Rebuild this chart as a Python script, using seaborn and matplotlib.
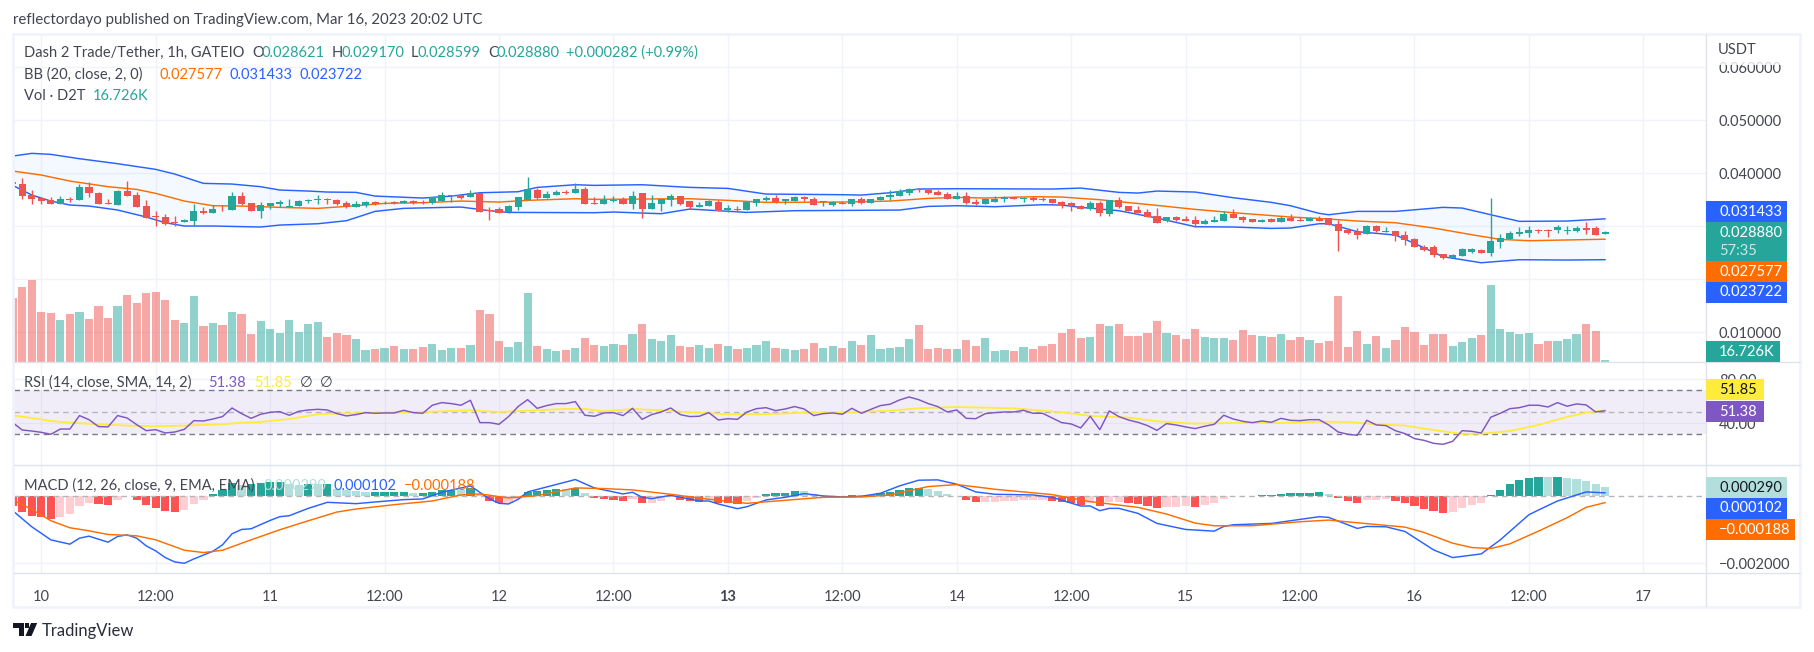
#!/usr/bin/env python3
"""
Recreate the D2T/USDT 1h TradingView chart with Bollinger, volume, RSI and MACD panes
"""

import numpy as np
import matplotlib
matplotlib.use('Agg')
import matplotlib.pyplot as plt
from matplotlib.lines import Line2D
from matplotlib.patches import Rectangle, Polygon
import seaborn as sns

# Hours since Mar 10 00:00, one candle per hour
hours = np.arange(-3, 165)

# Prices are in thousandths of USDT
opens = [38.37, 37.99, 35.85, 35.35, 34.97, 34.22, 35.16, 35.03, 37.42, 36.29, 34.40, 34.09,
         36.67, 35.85, 33.84, 31.96, 31.70, 30.89, 30.82, 31.01, 32.90, 32.52, 33.71, 33.15,
         35.72, 34.34, 32.96, 33.84, 34.28, 33.71, 33.84, 34.72, 34.91, 35.16, 34.97, 34.34,
         33.65, 34.09, 34.59, 34.34, 34.53, 34.47, 34.78, 34.59, 34.34, 34.78, 35.66, 35.85,
         35.60, 36.23, 33.02, 33.27, 32.65, 33.65, 34.97, 36.86, 35.35, 35.98, 36.54, 36.29,
         37.05, 34.40, 34.28, 34.78, 35.16, 34.28, 36.29, 33.34, 34.28, 35.03, 35.72, 34.78,
         33.71, 33.84, 34.59, 33.09, 33.27, 33.09, 34.47, 35.03, 35.35, 34.84, 34.78, 35.60,
         35.10, 34.59, 34.09, 34.47, 34.28, 35.10, 34.40, 35.03, 35.54, 35.72, 36.23, 36.98,
         36.86, 36.54, 36.04, 35.16, 35.72, 34.59, 34.22, 34.66, 35.10, 35.47, 35.22, 35.35,
         35.22, 35.16, 34.59, 34.40, 33.84, 33.27, 34.40, 32.40, 34.91, 33.84, 33.09, 32.71,
         31.96, 31.07, 31.77, 31.39, 31.20, 30.45, 30.89, 31.01, 32.33, 31.77, 31.33, 30.89,
         31.39, 30.89, 31.58, 31.20, 31.07, 31.45, 31.51, 30.39, 29.32, 29.00, 28.62, 30.07,
         28.93, 29.13, 28.37, 27.61, 26.10, 26.04, 24.78, 24.02, 24.47, 25.16, 25.53, 24.97,
         27.11, 27.68, 28.55, 28.74, 29.32, 29.32, 29.32, 29.19, 29.13, 29.69, 29.63, 28.62]
highs = [38.50, 39.06, 36.79, 35.60, 35.60, 35.79, 35.54, 37.99, 38.37, 36.48, 35.16, 36.79,
         38.55, 36.48, 34.91, 32.83, 32.27, 31.89, 31.45, 34.22, 33.71, 33.96, 34.03, 36.48,
         36.48, 34.47, 34.59, 34.40, 34.91, 35.16, 34.97, 35.16, 35.85, 35.28, 35.16, 34.72,
         34.72, 34.72, 34.72, 34.72, 34.78, 34.97, 34.91, 34.91, 35.60, 36.48, 35.98, 36.10,
         36.86, 36.35, 33.71, 33.71, 33.96, 35.60, 39.31, 37.17, 36.67, 36.86, 36.86, 38.12,
         37.42, 35.60, 35.91, 35.72, 35.60, 36.67, 36.29, 35.85, 35.16, 36.10, 35.79, 34.78,
         34.59, 34.91, 34.97, 34.03, 33.84, 34.72, 35.22, 35.79, 35.85, 35.16, 35.66, 35.79,
         35.54, 34.72, 34.78, 34.72, 35.16, 35.54, 35.22, 35.66, 36.79, 37.05, 37.23, 37.23,
         36.98, 36.86, 36.48, 36.54, 36.54, 35.16, 35.35, 35.66, 35.72, 35.60, 35.60, 35.66,
         35.60, 35.22, 34.72, 34.66, 33.96, 34.78, 34.78, 34.97, 35.60, 33.84, 33.84, 33.27,
         33.46, 31.77, 31.96, 31.96, 31.96, 31.39, 31.96, 32.90, 33.27, 31.96, 31.39, 31.39,
         31.64, 31.96, 32.33, 31.70, 31.77, 31.96, 31.64, 31.20, 29.44, 29.63, 30.26, 30.26,
         29.88, 29.19, 29.13, 27.80, 26.48, 26.48, 24.84, 24.78, 25.91, 25.98, 25.72, 35.35,
         28.55, 29.13, 29.88, 30.07, 29.57, 29.51, 30.26, 30.01, 30.07, 30.82, 30.07, 29.17]
lows = [37.90, 35.16, 34.28, 34.15, 34.22, 34.22, 34.59, 35.03, 35.60, 34.15, 34.15, 34.09,
        35.72, 33.71, 31.64, 30.13, 30.20, 30.13, 30.76, 30.13, 32.27, 32.46, 32.96, 33.09,
        34.03, 32.90, 31.58, 33.21, 33.71, 33.65, 33.78, 34.34, 34.15, 34.22, 34.09, 33.53,
        33.59, 33.71, 34.09, 34.22, 34.15, 34.40, 34.15, 34.28, 34.28, 34.72, 34.66, 35.16,
        35.54, 32.71, 31.20, 32.46, 32.58, 33.15, 34.91, 35.16, 35.28, 35.91, 36.10, 36.23,
        34.22, 34.22, 34.22, 34.66, 34.22, 33.27, 31.64, 33.27, 32.96, 33.90, 33.96, 33.21,
        33.65, 33.78, 32.83, 32.77, 32.90, 33.02, 33.90, 34.84, 34.47, 34.28, 34.72, 34.78,
        34.03, 33.90, 33.84, 34.22, 33.84, 34.28, 34.34, 34.97, 35.03, 35.66, 35.98, 36.54,
        36.17, 35.85, 35.10, 35.10, 34.22, 34.03, 34.15, 34.59, 34.59, 35.16, 34.59, 34.84,
        34.78, 34.34, 33.46, 32.90, 33.27, 33.15, 31.96, 31.96, 33.53, 32.83, 32.46, 31.70,
        30.70, 30.82, 31.01, 31.01, 29.94, 30.39, 30.82, 30.95, 31.51, 30.82, 30.82, 30.82,
        30.82, 30.82, 31.01, 31.01, 31.01, 31.01, 30.20, 25.41, 28.55, 27.61, 28.55, 29.00,
        28.87, 27.30, 26.48, 26.10, 25.35, 24.21, 23.83, 23.96, 24.40, 24.97, 24.91, 24.40,
        25.91, 27.61, 28.18, 27.99, 28.74, 27.99, 28.68, 28.62, 28.93, 28.55, 28.37, 28.60]
closes = [38.05, 35.79, 35.22, 34.84, 34.28, 35.10, 34.97, 37.42, 36.29, 34.28, 34.22, 36.67,
          35.79, 33.71, 31.64, 31.77, 30.51, 30.70, 31.20, 32.90, 32.58, 33.27, 33.59, 35.72,
          34.22, 32.96, 33.96, 34.34, 34.59, 33.84, 34.78, 34.97, 35.10, 34.91, 34.28, 33.71,
          34.15, 34.59, 34.22, 34.40, 34.40, 34.78, 34.34, 34.40, 35.47, 35.85, 35.85, 35.41,
          36.29, 32.77, 32.83, 32.58, 33.84, 35.47, 36.98, 35.35, 36.10, 36.54, 36.35, 37.05,
          34.28, 34.28, 34.97, 35.03, 34.28, 35.72, 33.34, 34.40, 35.10, 35.72, 34.28, 33.65,
          34.03, 34.78, 32.96, 33.40, 33.09, 34.59, 35.10, 35.35, 34.53, 35.16, 35.54, 35.22,
          34.09, 34.72, 34.59, 34.28, 35.10, 34.34, 35.16, 35.60, 35.91, 36.60, 36.98, 36.79,
          36.29, 35.91, 35.16, 35.72, 34.40, 34.28, 35.16, 35.10, 35.47, 35.22, 35.35, 34.97,
          35.03, 34.40, 34.03, 33.84, 33.34, 34.40, 32.46, 34.91, 33.71, 32.90, 32.52, 31.77,
          30.70, 31.70, 31.20, 31.07, 30.45, 31.01, 31.20, 32.33, 31.58, 31.26, 30.89, 31.20,
          30.89, 31.58, 31.07, 31.07, 31.58, 31.07, 30.26, 29.13, 28.74, 28.37, 30.07, 29.13,
          29.13, 28.18, 27.42, 26.10, 25.53, 24.59, 23.96, 24.59, 25.72, 25.66, 24.97, 27.23,
          27.80, 28.74, 28.93, 29.32, 29.13, 29.13, 29.88, 29.32, 29.69, 29.32, 28.43, 28.88]

# Volume in thousands of D2T
volumes = [536, 628, 686, 419, 410, 352, 402, 419, 360, 469, 368, 469, 561, 494, 578, 586, 519, 352,
           326, 552, 301, 326, 310, 419, 402, 234, 343, 276, 243, 352, 251, 318, 335, 209, 243, 226,
           193, 100, 109, 117, 134, 109, 109, 126, 151, 100, 117, 117, 142, 435, 402, 176, 126, 167,
           578, 134, 109, 92, 100, 117, 201, 142, 134, 151, 142, 234, 318, 193, 176, 226, 134, 126,
           142, 117, 151, 134, 109, 117, 142, 176, 117, 109, 100, 109, 159, 117, 134, 117, 176, 142,
           226, 109, 117, 126, 193, 310, 109, 117, 109, 109, 184, 134, 201, 92, 100, 92, 126, 109,
           134, 151, 243, 276, 201, 209, 318, 301, 318, 218, 218, 243, 343, 243, 226, 193, 276, 209,
           201, 201, 184, 268, 226, 218, 209, 234, 184, 209, 184, 159, 176, 552, 126, 259, 151, 218,
           117, 184, 293, 251, 142, 234, 234, 134, 167, 201, 226, 644, 276, 251, 234, 243, 151, 176,
           176, 193, 234, 318, 259, 16.726]

# Bollinger bands, read where the curves bend
bb_upper_hours = [-3, -1, 1, 4, 8, 12, 14, 17, 20, 23, 25, 28, 30, 33, 35, 40, 43, 46, 50, 52, 56, 58, 63,
                  68, 72, 76, 84, 86, 89, 92, 96, 106, 109, 113, 115, 117, 121, 125, 129, 131, 134, 135,
                  138, 142, 147, 149, 152, 155, 160, 164]
bb_upper = [43.27, 43.78, 43.59, 42.77, 41.83, 40.76, 39.87, 38.12, 37.99, 37.49, 36.86, 36.67, 36.48,
            36.42, 35.72, 35.35, 35.72, 36.35, 36.54, 37.36, 37.86, 37.74, 37.86, 37.36, 37.17, 36.10,
            35.98, 35.91, 36.35, 37.05, 37.11, 37.05, 37.23, 36.42, 36.29, 36.67, 36.48, 35.41, 34.53,
            33.90, 32.46, 32.20, 32.83, 32.83, 33.59, 33.46, 32.20, 30.95, 31.01, 31.43]
bb_basis_hours = [-3, 0, 3, 7, 10, 12, 15, 18, 21, 25, 29, 33, 36, 40, 44, 48, 51, 56, 58, 68, 72, 76, 84,
                  89, 93, 96, 99, 104, 107, 111, 117, 121, 125, 131, 135, 138, 142, 146, 150, 153, 156, 164]
bb_basis = [40.44, 39.69, 38.55, 37.49, 36.98, 36.23, 34.78, 33.90, 33.84, 33.59, 33.40, 33.90, 34.34,
            34.47, 34.78, 34.59, 34.91, 35.22, 35.10, 35.22, 34.91, 34.53, 34.59, 34.78, 35.28, 35.47,
            35.35, 35.60, 35.54, 35.03, 33.96, 33.21, 32.58, 31.77, 31.39, 31.01, 30.69, 29.69, 28.43,
            27.55, 27.30, 27.58]
bb_lower_hours = [-3, -1, 1, 3, 5, 8, 11, 13, 15, 18, 23, 25, 29, 32, 35, 38, 44, 47, 49, 58, 60, 65, 68,
                  71, 74, 79, 90, 93, 96, 100, 105, 107, 109, 113, 117, 121, 125, 129, 131, 134, 135,
                  138, 142, 144, 147, 151, 155, 160, 164]
bb_lower = [37.74, 35.91, 34.78, 34.03, 33.84, 33.09, 31.77, 30.69, 30.07, 30.07, 29.88, 30.25, 30.50,
            31.07, 32.83, 33.40, 33.65, 32.96, 32.64, 32.58, 32.71, 32.39, 33.27, 32.96, 32.64, 32.96,
            33.08, 33.77, 33.90, 33.71, 34.09, 34.03, 33.59, 32.96, 31.57, 29.94, 29.88, 29.62, 29.69,
            30.50, 30.50, 29.00, 28.37, 26.79, 24.28, 23.14, 23.71, 23.65, 23.72]

rsi = [40.6, 33.9, 33.0, 31.8, 30.0, 34.8, 34.8, 47.0, 43.3, 37.0, 36.7, 47.0, 44.8, 38.8, 33.3, 34.2,
       31.2, 32.1, 34.5, 42.4, 42.1, 43.9, 46.1, 53.9, 48.8, 44.5, 48.2, 50.0, 50.6, 47.3, 50.9, 52.1,
       52.7, 52.1, 48.8, 46.7, 47.9, 49.7, 49.1, 49.4, 49.4, 51.8, 49.7, 49.1, 56.4, 58.8, 57.9, 56.4,
       60.9, 40.6, 40.6, 39.1, 46.1, 55.2, 61.5, 53.6, 56.1, 57.9, 57.9, 59.7, 47.3, 46.4, 49.4, 49.7,
       47.0, 53.6, 43.6, 47.9, 50.3, 53.9, 47.9, 46.1, 46.4, 49.7, 43.0, 44.2, 43.6, 50.3, 53.3, 54.2,
       51.5, 53.0, 55.2, 53.0, 47.0, 48.8, 49.4, 48.2, 53.6, 49.1, 52.7, 56.1, 57.3, 61.2, 63.9, 61.5,
       57.9, 55.2, 50.3, 52.1, 44.5, 44.2, 48.8, 49.7, 50.3, 50.3, 51.8, 49.1, 49.1, 44.8, 40.6, 39.4,
       35.8, 46.4, 34.2, 51.2, 46.1, 43.0, 40.9, 37.9, 33.6, 39.7, 38.5, 36.7, 35.2, 37.3, 39.1, 47.3,
       43.9, 41.8, 40.6, 42.1, 40.9, 44.5, 42.7, 42.4, 43.3, 43.3, 38.5, 32.1, 30.0, 29.1, 42.7, 38.5,
       37.9, 33.3, 30.6, 26.1, 24.5, 21.8, 20.9, 23.6, 33.3, 32.7, 31.2, 45.5, 49.1, 53.3, 54.2, 56.4,
       56.4, 54.8, 58.8, 55.5, 57.6, 56.7, 50.3, 51.38]
rsi_ma_hours = [-3, -1, 1, 3, 6, 9, 12, 15, 19, 21, 23, 26, 29, 32, 37, 41, 45, 48, 51, 55, 57, 59, 62, 65,
                68, 72, 76, 80, 84, 89, 92, 96, 102, 107, 110, 114, 117, 121, 125, 130, 134, 137, 140,
                143, 146, 149, 151, 154, 157, 160, 162, 164]
rsi_ma = [47.3, 44.8, 42.1, 40.6, 39.1, 37.9, 37.3, 37.9, 39.1, 40.6, 41.2, 43.9, 48.2, 49.1, 49.7, 50.6,
          51.8, 50.3, 51.5, 53.0, 53.0, 50.9, 53.0, 51.8, 50.0, 48.2, 48.2, 49.7, 49.7, 51.5, 53.6, 54.8,
          53.6, 50.0, 46.7, 45.2, 41.8, 39.7, 40.3, 40.3, 41.5, 41.2, 39.1, 37.9, 33.9, 30.3, 30.6, 33.0,
          38.5, 45.8, 49.7, 51.85]

# MACD values are in thousandths
macd_hist = [-0.30, -0.47, -0.58, -0.61, -0.68, -0.62, -0.52, -0.29, -0.20, -0.23, -0.26, -0.10, 0.02,
             -0.11, -0.26, -0.35, -0.44, -0.47, -0.41, -0.23, -0.11, 0.07, 0.18, 0.40, 0.34, 0.37, 0.40,
             0.43, 0.44, 0.36, 0.34, 0.37, 0.36, 0.37, 0.21, 0.19, 0.17, 0.13, 0.13, 0.13, 0.13, 0.14,
             0.11, 0.11, 0.14, 0.19, 0.20, 0.19, 0.24, 0.08, -0.14, -0.21, -0.20, -0.09, 0.13, 0.17, 0.19,
             0.22, 0.21, 0.24, 0.10, -0.04, -0.08, -0.11, -0.14, -0.08, -0.20, -0.19, -0.14, -0.03, -0.11,
             -0.14, -0.16, -0.11, -0.20, -0.21, -0.23, -0.14, -0.05, 0.07, 0.10, 0.11, 0.16, 0.15, 0.06,
             0.02, 0.01, 0.01, 0.04, 0.03, 0.04, 0.09, 0.13, 0.19, 0.25, 0.26, 0.22, 0.16, 0.07, 0.01,
             -0.11, -0.17, -0.165, -0.16, -0.14, -0.14, -0.11, -0.11, -0.10, -0.14, -0.17, -0.20, -0.26,
             -0.20, -0.29, -0.17, -0.16, -0.20, -0.23, -0.29, -0.35, -0.32, -0.31, -0.30, -0.32, -0.26,
             -0.20, -0.08, 0.01, 0.02, 0.005, 0.04, 0.045, 0.07, 0.10, 0.105, 0.11, 0.115, 0.07, -0.05,
             -0.14, -0.20, -0.11, -0.10, -0.09, -0.14, -0.20, -0.29, -0.38, -0.44, -0.50, -0.47, -0.35,
             -0.26, -0.20, 0.05, 0.19, 0.37, 0.49, 0.55, 0.58, 0.575, 0.585, 0.55, 0.52, 0.46, 0.37, 0.29]
macd_hours = [-3, -1, 1, 3, 4, 5, 7, 8, 9, 10, 11, 12, 13, 14, 15, 16, 18, 19, 20, 21, 22, 24, 25, 26, 28, 30,
              33, 35, 38, 40, 42, 45, 47, 48, 49, 50, 51, 56, 58, 61, 62, 63, 64, 66, 69, 70, 71, 73, 74, 76,
              78, 80, 82, 84, 86, 88, 90, 92, 94, 96, 98, 100, 104, 106, 109, 110, 111, 112, 113, 115, 117,
              120, 123, 124, 125, 129, 134, 135, 138, 139, 141, 143, 146, 148, 151, 153, 156, 157, 159, 162, 164]
macd_line = [-0.43, -0.91, -1.30, -1.43, -1.25, -1.19, -1.37, -1.20, -1.15, -1.25, -1.48, -1.63, -1.83, -1.96,
             -2.00, -1.87, -1.64, -1.45, -1.12, -0.99, -0.97, -0.72, -0.61, -0.58, -0.36, -0.18, -0.22, -0.17,
             -0.10, -0.08, 0.12, 0.31, -0.08, -0.21, -0.23, -0.09, 0.13, 0.50, 0.25, 0.07, 0.12, -0.03, -0.07,
             0.03, -0.14, -0.14, -0.23, -0.37, -0.31, -0.11, -0.03, 0.08, 0.01, -0.02, 0.00, 0.09, 0.31, 0.48,
             0.49, 0.36, 0.13, 0.06, 0.04, -0.03, -0.29, -0.29, -0.43, -0.36, -0.36, -0.51, -0.81, -0.99, -1.04,
             -0.90, -0.85, -0.81, -0.61, -0.63, -0.96, -0.90, -0.91, -1.05, -1.60, -1.83, -1.72, -1.30, -0.55,
             -0.41, -0.14, 0.13, 0.102]
signal_hours = [-3, -1, 1, 3, 5, 7, 10, 12, 15, 17, 19, 22, 25, 28, 31, 33, 37, 41, 44, 46, 49, 52, 56, 59, 62,
                66, 70, 74, 78, 82, 86, 89, 93, 96, 100, 106, 110, 115, 118, 121, 123, 127, 132, 135, 138, 143,
                145, 148, 150, 152, 154, 157, 160, 162, 164]
signal_line = [-0.11, -0.39, -0.73, -0.94, -1.03, -1.14, -1.18, -1.30, -1.61, -1.68, -1.61, -1.30, -1.00, -0.73,
               -0.47, -0.38, -0.25, -0.14, 0.04, 0.07, -0.05, 0.02, 0.25, 0.23, 0.19, 0.06, -0.09, -0.21, -0.12,
               -0.03, -0.02, 0.04, 0.29, 0.35, 0.21, 0.05, -0.16, -0.33, -0.53, -0.80, -0.88, -0.88, -0.76, -0.71,
               -0.79, -0.92, -1.08, -1.40, -1.53, -1.56, -1.42, -1.04, -0.64, -0.33, -0.188]

time_ticks = [0, 12, 24, 36, 48, 60, 72, 84, 96, 108, 120, 132, 144, 156, 168]
time_labels = ['10', '12:00', '11', '12:00', '12', '12:00', '13', '12:00', '14', '12:00', '15', '12:00',
               '16', '12:00', '17']

GREEN = '#26a69a'
RED = '#ef5350'
BLUE = '#2962ff'
ORANGE = '#ff6d00'
PURPLE = '#7e57c2'
YELLOW = '#ffeb3b'
TEXT = '#434651'
GRID = '#f0f3fa'
W, H = 1814, 652
LEFT, RIGHT = 13.5, 1706


def fx(x):
    return x / W


def fy(y):
    return 1 - y / H


def pane(top, bottom, **kwargs):
    """Axes placed by pixel rows of the figure"""
    ax = fig.add_axes([fx(LEFT), fy(bottom), fx(RIGHT - LEFT), (bottom - top) / H], **kwargs)
    ax.set_xlim(-2.915, 174.57)
    for spine in ax.spines.values():
        spine.set_visible(False)
    return ax


def style_axis(ax, ticks, labels):
    ax.set_xlim(-2.915, 174.57)
    ax.set_xticks(time_ticks)
    ax.set_xticklabels([])
    ax.yaxis.tick_right()
    ax.set_yticks(ticks)
    ax.set_yticklabels(labels)
    ax.set_xlabel('')
    ax.set_ylabel('')
    ax.grid(True, color=GRID, linewidth=1)
    ax.tick_params(axis='both', length=0, labelsize=FS, labelcolor=TEXT, pad=9.2)
    ax.set_axisbelow(True)


def draw_line(ax, x, y, color, lw=1.05, alpha=1.0):
    sns.lineplot(x=x, y=y, ax=ax, color=color, linewidth=lw, alpha=alpha,
                 estimator=None, errorbar=None, sort=False, legend=False)


def label(x, y, text, color=TEXT, size=None, **kwargs):
    fig.text(fx(x), fy(y), text, color=color, fontsize=size or FS, va='center', ha='left', **kwargs)


def tag(top, bottom, text, bg, fg='white', right=1787):
    fig.add_artist(Rectangle((fx(RIGHT), fy(bottom)), fx(right - RIGHT), (bottom - top) / H,
                             color=bg, linewidth=0, zorder=6, transform=fig.transFigure))
    fig.text(fx(1719), fy((top + bottom) / 2), text, color=fg, fontsize=FS, va='center', ha='left', zorder=7)


def rule(x0, y0, x1, y1, color='#e0e3eb', lw=1.0):
    fig.add_artist(Line2D([fx(x0), fx(x1)], [fy(y0), fy(y1)], color=color, linewidth=lw, zorder=4))


sns.set_theme(style='white')
plt.rcParams['font.family'] = ['Lato', 'DejaVu Sans']
FS = 10.5

fig = plt.figure(figsize=(W / 100, H / 100), dpi=100, facecolor='white')

# Price pane
candle_up = np.array(closes) >= np.array(opens)
ax_price = pane(35, 362, zorder=1)
price_ticks = [0.06, 0.05, 0.04, 0.03, 0.02, 0.01]
style_axis(ax_price, price_ticks, ['%.6f' % t if t not in (0.03, 0.02) else '' for t in price_ticks])

ax_price.fill(np.r_[bb_upper_hours, bb_lower_hours[::-1]],
              np.r_[bb_upper, bb_lower[::-1]] / 1000, color='#2196f3', alpha=0.05, linewidth=0)
draw_line(ax_price, bb_upper_hours, np.array(bb_upper) / 1000, BLUE)
draw_line(ax_price, bb_lower_hours, np.array(bb_lower) / 1000, BLUE)
draw_line(ax_price, bb_basis_hours, np.array(bb_basis) / 1000, ORANGE)

candle_colors = [GREEN if up else RED for up in candle_up]
ax_price.vlines(hours, np.array(lows) / 1000, np.array(highs) / 1000, colors=candle_colors, linewidth=1, zorder=3)
ax_price.bar(hours, (np.array(closes) - np.array(opens)) / 1000, bottom=np.array(opens) / 1000,
             width=0.74, color=candle_colors, linewidth=0, zorder=4)
ax_price.set_xlim(-2.915, 174.57)
ax_price.set_ylim(0.004415, 0.06611)

# Volume shares the price pane, translucent so the grid shows through
ax_vol = pane(35, 362, facecolor='none', zorder=2)
sns.barplot(x=hours, y=volumes, hue=candle_colors, palette={GREEN: GREEN, RED: RED}, alpha=0.5,
            dodge=False, native_scale=True, width=0.86, saturation=1, linewidth=0, legend=False, ax=ax_vol)
ax_vol.set_xlim(-2.915, 174.57)
ax_vol.set_ylim(0, 2737)
ax_vol.set_xticks([])
ax_vol.set_yticks([])
ax_vol.set_xlabel('')
ax_vol.set_ylabel('')

# RSI pane
ax_rsi = pane(362, 465)
style_axis(ax_rsi, [80, 40], ['80.00', '40.00'])
ax_rsi.axhspan(30, 70, color=PURPLE, alpha=0.1, linewidth=0)
for level, shade in ((70, '#787b86'), (50, '#b4b6bd'), (30, '#787b86')):
    ax_rsi.axhline(level, color=shade, linewidth=1, dashes=(4, 3))
draw_line(ax_rsi, rsi_ma_hours, rsi_ma, YELLOW, lw=1.3)
draw_line(ax_rsi, hours, rsi, PURPLE, lw=1.05)
ax_rsi.set_xlim(-2.915, 174.57)
ax_rsi.set_ylim(2.1, 95.7)

# MACD pane
ax_macd = pane(465, 573)
hist_colors = []
for i, v in enumerate(macd_hist):
    prev = macd_hist[i - 1] if i else v + 0.01
    if v >= 0:
        hist_colors.append(GREEN if v >= prev else '#b2dfdb')
    else:
        hist_colors.append('#ff5252' if v < prev else '#ffcdd2')
sns.barplot(x=hours, y=np.array(macd_hist) / 1000, hue=hist_colors,
            palette={c: c for c in set(hist_colors)}, dodge=False, native_scale=True, width=0.86,
            saturation=1, linewidth=0, legend=False, ax=ax_macd)
style_axis(ax_macd, [-0.002], ['\u22120.002000'])
ax_macd.set_xticklabels(time_labels)
ax_macd.get_xticklabels()[6].set_fontweight('bold')
ax_macd.tick_params(axis='x', pad=12.5)
ax_macd.axhline(0, color='#b4b6bd', linewidth=1, dashes=(4, 3), zorder=1)
draw_line(ax_macd, macd_hours, np.array(macd_line) / 1000, BLUE)
draw_line(ax_macd, signal_hours, np.array(signal_line) / 1000, ORANGE)
ax_macd.set_xlim(-2.915, 174.57)
ax_macd.set_ylim(-0.00229, 0.000934)

# Frame and pane separators
rule(12.5, 34, 1800, 34, color=GRID, lw=2)
rule(12.5, 34, 12.5, 607, color=GRID, lw=2)
rule(12.5, 607, 1800, 607, color=GRID, lw=2)
rule(1800, 34, 1800, 607, color=GRID, lw=2)
rule(13.5, 362, 1800, 362)
rule(13.5, 465, 1800, 465)
rule(13.5, 573, 1800, 573)
rule(1706, 35, 1706, 606)

# Fade the top of the clipped 0.06 label
fig.add_artist(Rectangle((fx(1708), fy(65)), fx(90), 9 / H, color='white', alpha=0.8, linewidth=0, zorder=5,
                         transform=fig.transFigure))
label(1718, 50, 'USDT')

# Price tags on the scale
tag(201, 222, '0.031433', BLUE)
tag(222, 261, '', GREEN)
fig.text(fx(1719), fy(232.7), '0.028880', color='white', fontsize=FS, va='center', ha='left', zorder=7)
fig.text(fx(1719), fy(250.7), '57:35', color='#c9e9e6', fontsize=FS, va='center', ha='left', zorder=7)
tag(261, 282, '0.027577', ORANGE)
tag(282, 303, '0.023722', BLUE)
tag(341, 362, '16.726K', GREEN, right=1779.5)
tag(379, 400, '51.85', YELLOW, fg='#131722', right=1764)
tag(401, 422, '51.38', PURPLE, right=1764)
tag(477, 498, '0.000290', '#b2dfdb', fg='#131722')
tag(498, 519, '0.000102', BLUE)
tag(519, 540, '\u22120.000188', ORANGE, right=1795)

# Header and pane legends
label(13.4, 20, 'reflectordayo published on TradingView.com, Mar 16, 2023 20:02 UTC', size=10.8)
label(23.5, 53, 'Dash 2 Trade/Tether, 1h, GATEIO')
for x, letter, vx, value in ((252, 'O', 262, '0.028621'), (331.4, 'H', 341.4, '0.029170'),
                             (410.6, 'L', 418, '0.028599'), (488, 'C', 496.7, '0.028880')):
    label(x, 53, letter)
    label(vx, 53, value, color=GREEN)
label(566.4, 53, '+0.000282 (+0.99%)', color=GREEN)
label(23.5, 75, 'BB (20, close, 2, 0)')
label(160, 75, '0.027577', color=ORANGE)
label(229.6, 75, '0.031433', color=BLUE)
label(299.3, 75, '0.023722', color=BLUE)
label(23.5, 96, 'Vol \u00b7 D2T')
label(93, 96, '16.726K', color=GREEN)
label(23.5, 383, 'RSI (14, close, SMA, 14, 2)')
label(208.6, 383, '51.38', color=PURPLE)
label(254, 383, '51.85', color=YELLOW)
label(300, 383, '\u2205')
label(319.6, 383, '\u2205')
label(23.5, 486, 'MACD (12, 26, close, 9, EMA, EMA)')
label(264, 486, '0.000290', color='#b2dfdb')
label(333.7, 486, '0.000102', color=BLUE)
label(403.7, 486, '\u22120.000188', color=ORANGE)

# TradingView mark
logo = '#131722'
fig.add_artist(Polygon([(fx(13.4), fy(623)), (fx(24), fy(623)), (fx(24), fy(636)), (fx(19), fy(636)),
                        (fx(19), fy(628)), (fx(13.4), fy(628))], color=logo, linewidth=0))
fig.add_artist(Polygon([(fx(31), fy(623)), (fx(37.2), fy(623)), (fx(31.5), fy(636)), (fx(25.5), fy(636))],
                       color=logo, linewidth=0))
fig.add_artist(Rectangle((fx(24.8), fy(628)), fx(4.4), 4.6 / H, color=logo, linewidth=0))
label(42, 630.7, 'TradingView', size=12, color='#2a2e39')

fig.savefig('out.png', dpi=100)
